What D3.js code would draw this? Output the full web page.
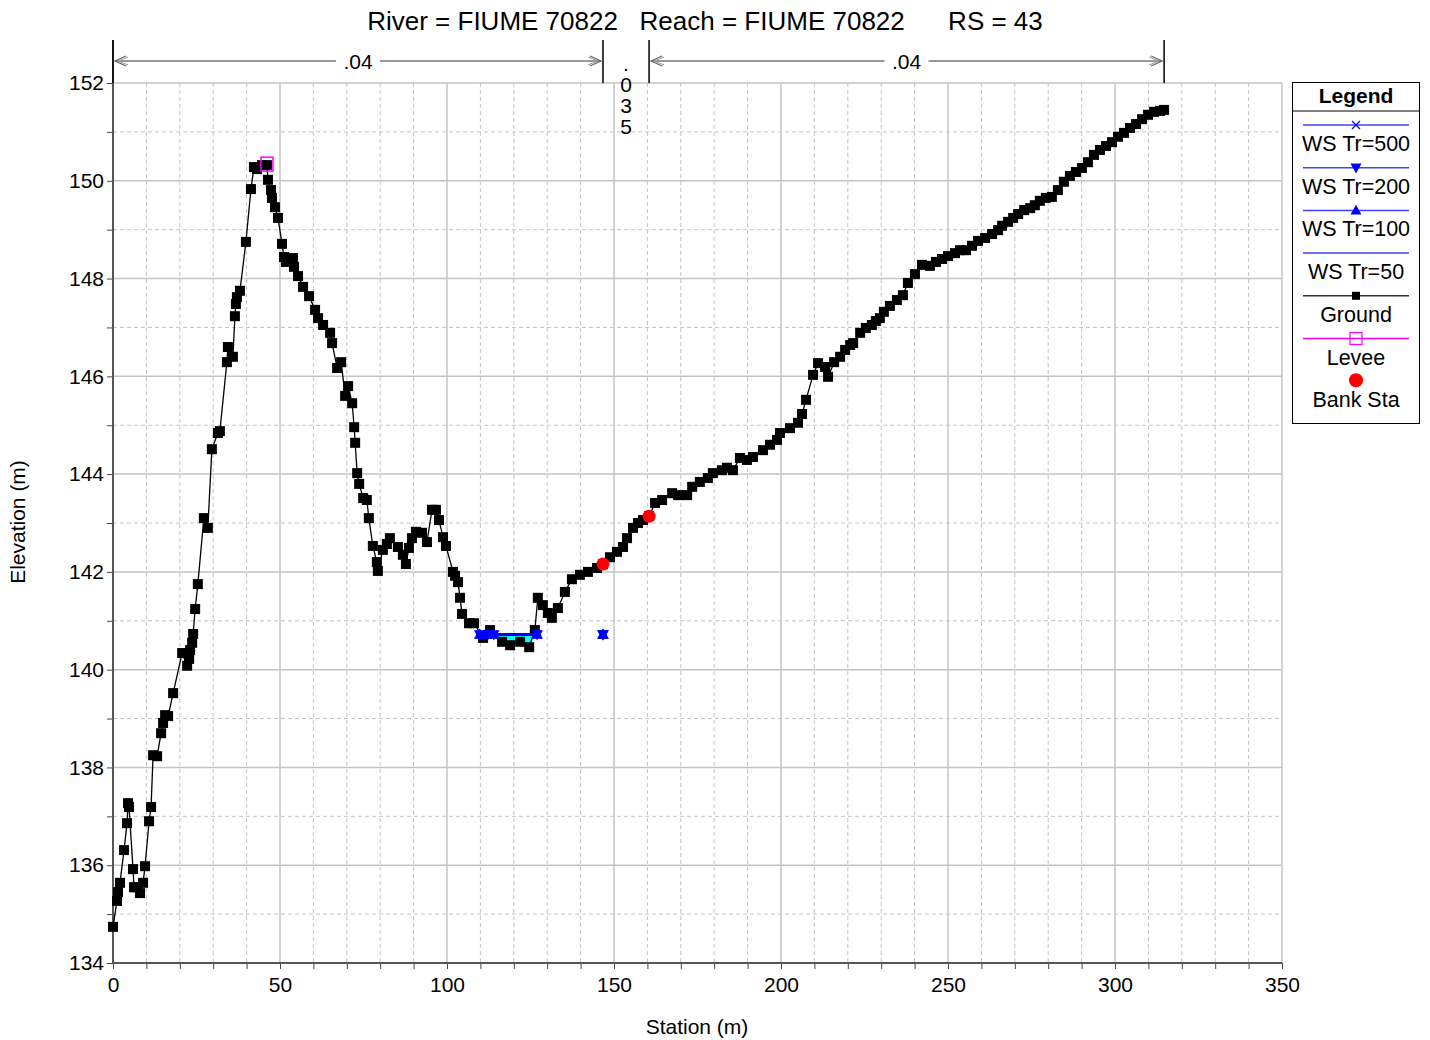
<!DOCTYPE html>
<html>
<head>
<meta charset="utf-8">
<script src="https://cdn.jsdelivr.net/npm/d3@7"></script>
<style>
  body { margin: 0; background: #fff; }
  svg { font-family: "Liberation Sans", Arial, sans-serif; }
</style>
</head>
<body>
<svg id="chart" width="1430" height="1040"></svg>
<script>
// Ground profile (station m, elevation m)
const groundSta = [0.0,1.2,1.5,2.1,3.3,4.2,4.5,4.8,6.0,6.3,7.2,8.1,9.0,9.6,10.8,11.4,12.0,13.2,14.4,15.0,
  15.6,16.5,18.0,20.7,22.2,22.8,23.1,23.7,24.0,24.6,25.4,27.2,28.4,29.6,31.4,32.0,34.1,34.4,35.9,36.5,
  36.8,37.1,38.0,39.8,41.3,42.2,43.1,44.6,46.1,46.4,47.3,47.6,48.5,49.4,50.6,51.2,51.8,53.9,54.2,55.4,
  56.9,58.7,60.5,61.4,62.9,65.0,65.6,67.1,68.3,69.5,70.4,71.6,72.2,72.5,73.1,73.7,74.9,76.0,76.6,77.8,
  79.0,79.3,80.8,82.0,82.9,85.3,86.8,87.7,88.6,89.5,90.7,92.5,94.0,95.5,96.7,97.6,98.8,99.7,101.8,102.4,
  103.3,103.9,104.5,106.6,108.1,110.8,112.9,116.5,118.9,121.9,124.6,126.3,127.2,128.7,130.2,131.4,133.2,135.3,137.4,139.8,
  142.2,144.9,146.7,148.8,150.9,152.7,153.9,155.7,157.2,158.7,160.5,162.3,164.4,167.4,169.2,171.9,173.4,175.7,178.1,179.6,
  182.3,183.8,185.6,187.7,189.8,191.6,194.6,196.7,198.8,199.7,202.7,205.1,206.3,207.5,209.6,211.1,213.2,214.1,215.9,217.7,
  219.2,220.7,221.6,223.7,225.4,227.2,228.4,229.6,230.8,232.6,234.7,236.5,238.0,240.1,242.2,244.6,246.4,248.2,250.0,252.1,
  253.6,255.4,257.2,259.0,261.1,263.2,265.0,266.2,268.0,269.5,271.0,272.8,274.6,276.0,277.5,279.3,281.1,282.9,284.7,286.5,
  288.3,290.1,291.9,293.7,295.5,297.3,299.1,300.9,302.7,304.5,306.3,308.1,309.9,311.7,313.5,314.7];
const groundElev = [134.74,135.27,135.45,135.64,136.31,136.86,137.27,137.19,135.92,135.55,135.55,135.43,135.64,135.98,136.90,137.19,138.25,138.23,138.70,138.91,
  139.07,139.05,139.52,140.34,140.08,140.22,140.40,140.55,140.73,141.24,141.75,143.10,142.90,144.51,144.84,144.88,146.29,146.60,146.40,147.23,
  147.48,147.62,147.75,148.75,149.83,150.28,150.24,150.32,150.32,150.02,149.81,149.65,149.46,149.24,148.71,148.44,148.34,148.42,148.24,148.05,
  147.83,147.64,147.36,147.19,147.05,146.89,146.68,146.17,146.29,145.60,145.80,145.45,144.96,144.64,144.02,143.80,143.51,143.47,143.10,142.53,
  142.20,142.02,142.45,142.57,142.69,142.51,142.35,142.16,142.49,142.69,142.82,142.80,142.61,143.27,143.27,143.06,142.71,142.53,142.00,141.92,
  141.79,141.47,141.14,140.95,140.95,140.65,140.81,140.57,140.50,140.57,140.46,140.81,141.47,141.32,141.16,141.06,141.26,141.59,141.85,141.94,
  142.00,142.08,142.16,142.30,142.41,142.51,142.69,142.90,143.00,143.06,143.14,143.41,143.47,143.61,143.57,143.57,143.74,143.84,143.92,144.02,
  144.08,144.13,144.08,144.33,144.29,144.35,144.49,144.60,144.70,144.84,144.94,145.05,145.23,145.52,146.03,146.27,146.19,145.99,146.29,146.40,
  146.54,146.64,146.68,146.89,146.99,147.05,147.13,147.19,147.32,147.44,147.56,147.66,147.91,148.09,148.28,148.26,148.34,148.40,148.46,148.52,
  148.58,148.58,148.67,148.77,148.83,148.91,148.99,149.08,149.16,149.24,149.32,149.40,149.44,149.50,149.59,149.65,149.67,149.81,149.98,150.10,
  150.18,150.26,150.38,150.53,150.63,150.71,150.79,150.90,150.98,151.08,151.16,151.26,151.35,151.41,151.43,151.45];

const leveeSta = [46.1];
const leveeElev = [150.32];
const bankSta = [146.7, 160.5];
const bankElev = [142.16, 143.14];

// Water surface profiles (all nearly equal), wet reaches
const wsNames = ["WS Tr=500", "WS Tr=200", "WS Tr=100", "WS Tr=50"];
const wsElev = [140.72, 140.72, 140.72, 140.72];
const wsStart = [109.8, 114.0, 146.7];
const wsEnd = [112.2, 127.0, 146.7];

// Manning's n regions
const nLabels = [".04", ".035", ".04"];
const nBreaks = [0, 146.7, 160.5, 314.7];

const title = "River = FIUME 70822   Reach = FIUME 70822      RS = 43";

const svg = d3.select("#chart");
const x = d3.scaleLinear().domain([0, 350]).range([113, 1282]);
const y = d3.scaleLinear().domain([134, 152]).range([963, 83]);

const ground = groundSta.map((s, i) => ({ s, e: groundElev[i] }));

// grid
const grid = svg.append("g");
d3.range(134, 153, 1).forEach(v => {
  grid.append("line").attr("x1", 113).attr("x2", 1282).attr("y1", y(v)).attr("y2", y(v))
    .attr("stroke", "#c4c4c4").attr("stroke-width", v % 2 === 0 ? 1.5 : 1)
    .attr("stroke-dasharray", v % 2 === 0 ? null : "4,3");
});
d3.range(10, 351, 10).forEach(v => {
  grid.append("line").attr("x1", x(v)).attr("x2", x(v)).attr("y1", 83).attr("y2", 963)
    .attr("stroke", "#c4c4c4").attr("stroke-width", v % 50 === 0 ? 1.5 : 1)
    .attr("stroke-dasharray", v % 50 === 0 ? null : "4,3");
});

// axes
const yAxis = svg.append("g").attr("transform", "translate(113,0)")
  .call(d3.axisLeft(y).tickValues(d3.range(134, 153, 1)).tickSize(6)
    .tickFormat(d => d % 2 === 0 ? d : ""));
const xAxis = svg.append("g").attr("transform", "translate(0,963)")
  .call(d3.axisBottom(x).tickValues(d3.range(0, 351, 10)).tickSize(6)
    .tickFormat(d => d % 50 === 0 ? d : ""));
[yAxis, xAxis].forEach(a => {
  a.select(".domain").remove();
  a.selectAll("line").attr("stroke", "#444");
  a.selectAll("text").attr("font-size", 21).attr("fill", "#000")
    .attr("font-family", "Liberation Sans, Arial, sans-serif");
});
yAxis.selectAll("text").attr("x", -9);
xAxis.selectAll("text").attr("y", 14);
svg.append("line").attr("x1", 113).attr("x2", 113).attr("y1", 40).attr("y2", 963)
  .attr("stroke", "#555").attr("stroke-width", 2);
svg.append("line").attr("x1", 113).attr("x2", 1282).attr("y1", 963).attr("y2", 963)
  .attr("stroke", "#555").attr("stroke-width", 2);

// axis titles & title
svg.append("text").attr("x", 705).attr("y", 30).attr("text-anchor", "middle")
  .attr("font-size", 26).attr("xml:space", "preserve").style("white-space", "pre").text(title);
svg.append("text").attr("x", 697).attr("y", 1034).attr("text-anchor", "middle")
  .attr("font-size", 21).text("Station (m)");
svg.append("text").attr("transform", "translate(25,522) rotate(-90)").attr("text-anchor", "middle")
  .attr("font-size", 21).text("Elevation (m)");

// Manning's n annotation
const ann = svg.append("g");
nBreaks.forEach(b => {
  ann.append("line").attr("x1", x(b)).attr("x2", x(b)).attr("y1", 40).attr("y2", 83)
    .attr("stroke", "#000").attr("stroke-width", 1.5);
});
nLabels.forEach((lab, i) => {
  const a = x(nBreaks[i]), b = x(nBreaks[i + 1]), m = (a + b) / 2;
  if (b - a > 100) {
    ann.append("line").attr("x1", a + 2).attr("x2", m - 22).attr("y1", 61).attr("y2", 61)
      .attr("stroke", "#777").attr("stroke-width", 1.5);
    ann.append("line").attr("x1", m + 22).attr("x2", b - 2).attr("y1", 61).attr("y2", 61)
      .attr("stroke", "#777").attr("stroke-width", 1.5);
    [[a + 2, 1], [b - 2, -1]].forEach(([p, d]) => {
      ann.append("path").attr("d", `M${p + d * 11},56 L${p},61 L${p + d * 11},66`)
        .attr("fill", "none").attr("stroke", "#666").attr("stroke-width", 1.2);
      ann.append("path").attr("d", `M${p + d * 13},57 L${p + d * 3},61 L${p + d * 13},65`)
        .attr("fill", "none").attr("stroke", "#999").attr("stroke-width", 1);
    });
    ann.append("text").attr("x", m).attr("y", 69).attr("text-anchor", "middle")
      .attr("font-size", 21).text(lab);
  } else {
    lab.split("").forEach((ch, k) => {
      ann.append("text").attr("x", m).attr("y", 71 + k * 21).attr("text-anchor", "middle")
        .attr("font-size", 21).text(ch);
    });
  }
});

// water fill
const groundAt = s => {
  for (let i = 1; i < ground.length; i++) {
    if (ground[i].s >= s) {
      const g0 = ground[i - 1], g1 = ground[i];
      const t = (s - g0.s) / (g1.s - g0.s || 1);
      return g0.e + t * (g1.e - g0.e);
    }
  }
  return ground[ground.length - 1].e;
};
wsStart.forEach((a, i) => {
  const b = wsEnd[i];
  if (b <= a) return;
  const pts = [{ s: a, e: groundAt(a) }].concat(ground.filter(g => g.s > a && g.s < b), [{ s: b, e: groundAt(b) }]);
  svg.append("path").datum(pts)
    .attr("d", d3.area().x(d => x(d.s)).y0(d => y(Math.min(d.e, wsElev[3]))).y1(y(wsElev[3])))
    .attr("fill", "#00ffff");
});

// ground line + markers
svg.append("path").datum(ground)
  .attr("d", d3.line().x(d => x(d.s)).y(d => y(d.e)))
  .attr("fill", "none").attr("stroke", "#000").attr("stroke-width", 1.3);
svg.append("g").selectAll("rect").data(ground).join("rect")
  .attr("x", d => x(d.s) - 5).attr("y", d => y(d.e) - 5)
  .attr("width", 10).attr("height", 10).attr("fill", "#000");

// water surfaces
const markerPath = k => {
  if (k === 0) return "M-4,-4L4,4M-4,4L4,-4";
  if (k === 1) return "M-4.5,-3.5L4.5,-3.5L0,4.5Z";
  if (k === 2) return "M-4.5,3.5L4.5,3.5L0,-4.5Z";
  return null;
};
wsNames.forEach((name, k) => {
  const g = svg.append("g");
  wsStart.forEach((a, i) => {
    const b = wsEnd[i];
    g.append("line").attr("x1", x(a)).attr("x2", x(b)).attr("y1", y(wsElev[k])).attr("y2", y(wsElev[k]))
      .attr("stroke", "#0000ff").attr("stroke-width", 3);
    const mk = markerPath(k);
    if (mk) {
      [a, b].forEach(s => {
        g.append("path").attr("transform", `translate(${x(s)},${y(wsElev[k])})`).attr("d", mk)
          .attr("fill", "#0000ff").attr("stroke", "#0000ff").attr("stroke-width", 1.5);
      });
    }
  });
});

// levee
svg.append("g").selectAll("rect").data(leveeSta).join("rect")
  .attr("x", (d, i) => x(d) - 6).attr("y", (d, i) => y(leveeElev[i]) - 8)
  .attr("width", 12).attr("height", 14).attr("fill", "none").attr("stroke", "#ff00ff").attr("stroke-width", 1.5);

// bank stations
svg.append("g").selectAll("circle").data(bankSta).join("circle")
  .attr("cx", d => x(d)).attr("cy", (d, i) => y(bankElev[i])).attr("r", 6.5).attr("fill", "#ff0000");

// legend
const lg = svg.append("g");
lg.append("rect").attr("x", 1292.5).attr("y", 82.5).attr("width", 127).attr("height", 341)
  .attr("fill", "#fff").attr("stroke", "#000").attr("stroke-width", 1);
lg.append("line").attr("x1", 1292.5).attr("x2", 1419.5).attr("y1", 111).attr("y2", 111).attr("stroke", "#000");
lg.append("text").attr("x", 1356).attr("y", 103).attr("text-anchor", "middle")
  .attr("font-size", 21).attr("font-weight", "bold").text("Legend");
const items = wsNames.map((n, k) => ({ name: n, color: "#4040ff", mk: markerPath(k), fill: "#0000ff" }))
  .concat([{ name: "Ground", color: "#333", sq: true }, { name: "Levee", color: "#ff00ff", lev: true },
    { name: "Bank Sta", dot: true }]);
items.forEach((it, i) => {
  const ly = 125 + i * 42.7;
  if (!it.dot) {
    lg.append("line").attr("x1", 1303).attr("x2", 1409).attr("y1", ly).attr("y2", ly)
      .attr("stroke", it.color).attr("stroke-width", 1.5);
  }
  if (it.mk) lg.append("path").attr("transform", `translate(1356,${ly})`).attr("d", it.mk)
    .attr("fill", it.fill).attr("stroke", it.fill).attr("stroke-width", 1.2);
  if (it.sq) lg.append("rect").attr("x", 1352).attr("y", ly - 4).attr("width", 8).attr("height", 8).attr("fill", "#000");
  if (it.lev) lg.append("rect").attr("x", 1350).attr("y", ly - 6).attr("width", 12).attr("height", 12)
    .attr("fill", "none").attr("stroke", "#ff00ff").attr("stroke-width", 1.2);
  if (it.dot) lg.append("circle").attr("cx", 1356).attr("cy", ly - 1).attr("r", 7).attr("fill", "#ff0000");
  lg.append("text").attr("x", 1356).attr("y", ly + 26).attr("text-anchor", "middle")
    .attr("font-size", 21.5).text(it.name);
});
</script>
</body>
</html>
